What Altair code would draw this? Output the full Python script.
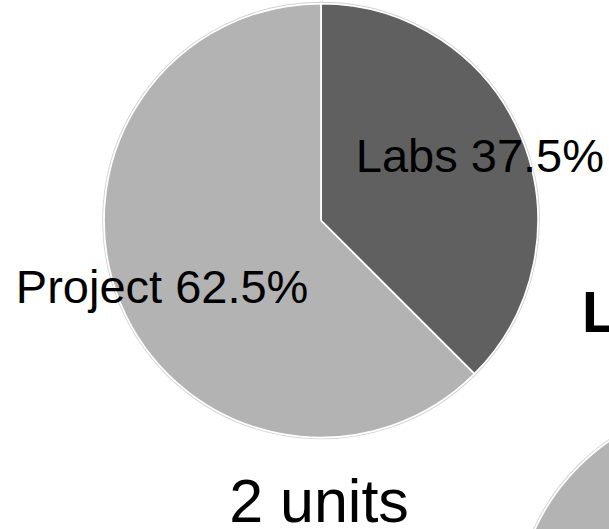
import altair as alt
import pandas as pd

# ---- data -------------------------------------------------------------
categories = ["Labs", "Project"]
shares_2_units = [37.5, 62.5]        # first pie (fully visible)
shares_second = [25.0, 75.0]         # second pie (only a sliver visible, bottom right)
slice_colors = ["#606060", "#b3b3b3"]
bottom_label = ["2 units"]
second_title = ["Labs"]

FONT = "Liberation Sans"


def pie_df(shares):
    return pd.DataFrame({
        "category": categories,
        "share": shares,
        "order": list(range(len(categories))),
        "label": [f"{c} {s:.1f}%" for c, s in zip(categories, shares)],
    })


color = alt.Color("category:N",
                  scale=alt.Scale(domain=categories, range=slice_colors),
                  legend=None)


def pie_layers(df, cx, cy, r, label_r):
    base = alt.Chart(df).encode(
        theta=alt.Theta("share:Q", stack=True),
        order=alt.Order("order:Q"),
        x=alt.value(cx),
        y=alt.value(cy),
    )
    halo = base.mark_arc(radius=r, stroke="#d2d2d2", strokeWidth=3.5).encode(color=color)
    fill = base.mark_arc(radius=r, stroke="white", strokeWidth=1.75).encode(color=color)
    text = base.mark_text(radius=label_r, font=FONT, fontSize=47, color="black",
                          align="center", baseline="middle", dy=3).encode(text="label:N")
    return [halo, fill, text]


pie1 = pie_layers(pie_df(shares_2_units), 321, 220.5, 217, 172)
pie2 = pie_layers(pie_df(shares_second), 732, 620, 217, 172)

units_text = alt.Chart(pd.DataFrame({"t": bottom_label})).mark_text(
    font=FONT, fontSize=61, color="black", align="center", baseline="alphabetic"
).encode(text="t:N", x=alt.value(319), y=alt.value(522))

title_text = alt.Chart(pd.DataFrame({"t": second_title})).mark_text(
    font=FONT, fontSize=57, fontWeight="bold", color="black",
    align="left", baseline="alphabetic"
).encode(text="t:N", x=alt.value(582), y=alt.value(332))

chart = alt.layer(
    pie1[0], pie1[1], pie2[0], pie2[1], pie1[2], pie2[2], units_text, title_text
).properties(
    width=609, height=529, padding=0, autosize="none", background="white"
).configure_view(stroke=None)

chart.save("out.html", embed_options={"renderer": "svg", "actions": False})
